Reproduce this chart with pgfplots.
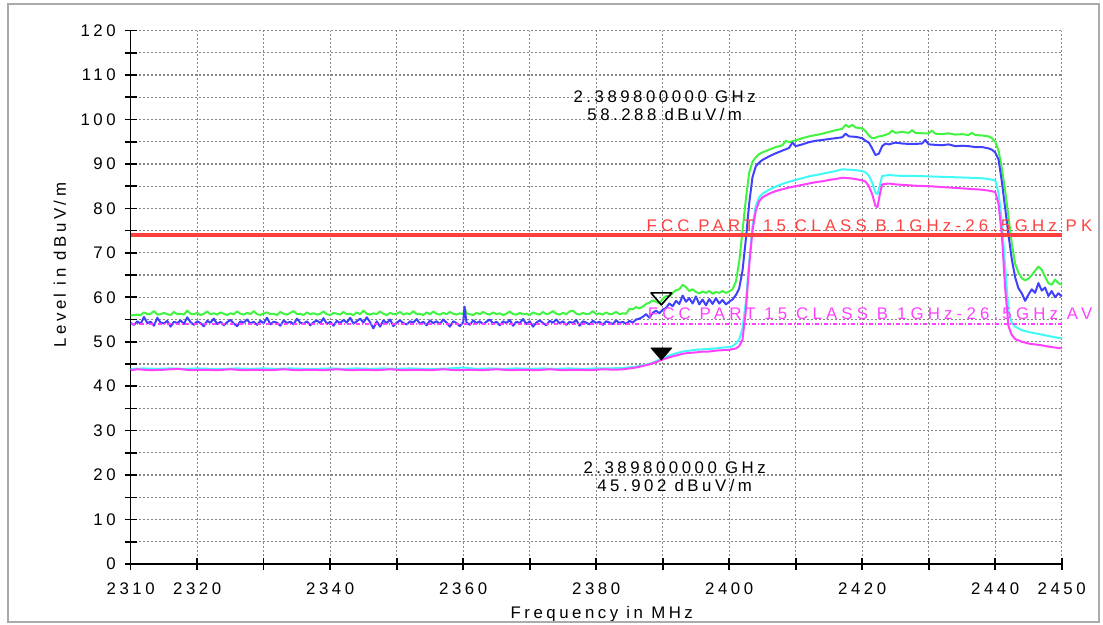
\documentclass[border=0pt]{standalone}
\usepackage{fontspec}
\setmainfont{Liberation Sans}[LetterSpace=21]
\newfontfamily\limfont{Liberation Sans}[LetterSpace=25]
\usepackage{pgfplots}
\pgfplotsset{compat=1.18}
\definecolor{tgreen}{RGB}{64,245,64}
\definecolor{tblue}{RGB}{64,64,255}
\definecolor{tcyan}{RGB}{64,250,250}
\definecolor{tmag}{RGB}{255,64,255}
\definecolor{pkred}{RGB}{255,64,64}
\definecolor{gridgray}{RGB}{135,135,135}
\definecolor{framegray}{RGB}{170,170,170}
\begin{document}
\begin{tikzpicture}[font=\fontsize{8.4pt}{10pt}\selectfont]
\path[use as bounding box] (-65.35pt,-30.5pt) rectangle (486.15pt,282pt);
\begin{axis}[
  at={(0pt,0pt)}, anchor=south west, scale only axis,
  width=465.5pt, height=266.7pt,
  xmin=2310, xmax=2450, ymin=0, ymax=120,
  axis x line*=bottom, axis y line*=left,
  axis line style={black, line width=0.8pt},
  xtick={2310,2320,...,2450},
  xticklabels={2310,2320,,2340,,2360,,2380,,2400,,2420,,2440,2450},
  ytick={0,10,...,120},
  yticklabels={0,10,20,30,40,50,60,70,80,90,100,110,120},
  minor ytick={5,15,...,115},
  tick align=center, major tick length=6pt, minor tick length=6pt,
  tick style={black, line width=0.8pt},
  xmajorgrids, ymajorgrids, yminorgrids,
  grid style={draw=gridgray, line width=0.6pt, dash pattern=on 1pt off 1pt},
  xticklabel style={yshift=-3pt},
  yticklabel style={xshift=-1pt},
  xlabel={Frequency in MHz},
  ylabel={Level in dBuV/m},
  xlabel style={at={(axis description cs:0.506,-0.094)}, anchor=center},
  ylabel style={at={(axis description cs:-0.076,0.56)}, anchor=center},
  clip=false,
  every axis plot/.append style={line join=round},
]
% Peak trace (green)
\addplot[tgreen, line width=1pt] coordinates {
(2310,55.9)(2310.5,56.0)(2311,56.1)(2311.5,56.0)(2312,56.6)(2312.5,56.2)(2313,56.3)(2313.5,56.9)(2314,56.1)(2314.5,56.2)
(2315,56.5)(2315.5,56.2)(2316,56.0)(2316.5,56.7)(2317,56.2)(2317.5,56.3)(2318,56.1)(2318.5,57.0)(2319,56.3)(2319.5,56.2)
(2320,56.5)(2320.5,56.0)(2321,56.3)(2321.5,56.8)(2322,56.2)(2322.5,56.4)(2323,56.1)(2323.5,56.6)(2324,56.3)(2324.5,56.0)
(2325,56.4)(2325.5,56.2)(2326,56.8)(2326.5,56.3)(2327,56.1)(2327.5,56.5)(2328,56.2)(2328.5,56.9)(2329,56.2)(2329.5,56.0)
(2330,56.4)(2330.5,56.6)(2331,56.2)(2331.5,56.3)(2332,56.0)(2332.5,56.7)(2333,56.3)(2333.5,56.1)(2334,56.5)(2334.5,56.9)
(2335,56.2)(2335.5,56.3)(2336,56.0)(2336.5,56.6)(2337,56.2)(2337.5,56.4)(2338,56.1)(2338.5,56.3)(2339,56.8)(2339.5,56.2)
(2340,56.0)(2340.5,56.5)(2341,56.3)(2341.5,56.1)(2342,56.7)(2342.5,56.2)(2343,56.3)(2343.5,56.0)(2344,56.6)(2344.5,56.2)
(2345,57.0)(2345.5,56.3)(2346,56.1)(2346.5,56.4)(2347,56.2)(2347.5,56.8)(2348,56.3)(2348.5,56.0)(2349,56.5)(2349.5,56.2)
(2350,56.3)(2350.5,56.7)(2351,56.1)(2351.5,56.4)(2352,56.2)(2352.5,56.9)(2353,56.2)(2353.5,56.3)(2354,56.0)(2354.5,56.6)
(2355,56.2)(2355.5,56.8)(2356,56.3)(2356.5,56.1)(2357,56.5)(2357.5,56.2)(2358,56.7)(2358.5,56.3)(2359,56.1)(2359.5,56.4)
(2360,56.2)(2360.2,57.6)(2360.5,56.4)(2361,56.2)(2361.5,56.0)(2362,56.5)(2362.5,56.2)(2363,56.7)(2363.5,56.3)(2364,56.1)
(2364.5,56.6)(2365,56.2)(2365.5,56.4)(2366,56.0)(2366.5,56.3)(2367,56.8)(2367.5,56.2)(2368,56.1)(2368.5,56.5)(2369,56.2)
(2369.5,56.3)(2370,56.0)(2370.5,56.6)(2371,56.3)(2371.5,56.1)(2372,56.7)(2372.5,56.2)(2373,56.4)(2373.5,56.9)(2374,56.3)
(2374.5,56.1)(2375,56.5)(2375.5,56.2)(2376,56.8)(2376.5,57.0)(2377,56.3)(2377.5,56.1)(2378,56.5)(2378.5,56.2)(2379,56.3)
(2379.5,56.9)(2380,56.2)(2380.5,56.4)(2381,56.1)(2381.5,56.6)(2382,56.2)(2382.5,56.3)(2383,56.7)(2383.5,56.2)(2384,56.4)
(2384.5,56.3)(2385,57.4)(2385.5,57.3)(2386,57.8)(2386.5,57.5)(2387,57.9)(2387.5,58.5)(2388,58.8)(2388.5,59.3)(2389,59.0)
(2389.5,58.6)(2390,59.6)(2390.5,60.3)(2391,60.2)(2391.5,61.0)(2392,61.6)(2392.5,61.8)(2393,62.8)(2393.5,62.3)(2394,61.4)
(2394.5,61.8)(2395,61.2)(2395.5,60.9)(2396,61.3)(2396.5,61.0)(2397,61.4)(2397.5,60.8)(2398,61.2)(2398.5,61.0)(2399,61.4)
(2399.5,61.0)(2400,61.3)(2400.5,61.8)(2401,63.5)(2401.5,68)(2402,75)(2402.5,82)(2403,88)(2403.5,90.5)(2404,91.5)
(2404.5,92.2)(2405,92.6)(2406,93.2)(2407,93.8)(2408,94.2)(2408.5,95.2)(2409,94.9)(2410,95.3)(2411,95.8)(2412,96.2)
(2413,96.5)(2414,96.8)(2415,97.2)(2416,97.6)(2417,97.9)(2417.5,98.8)(2418,98.3)(2418.5,98.8)(2419,98.2)(2420,98.0)
(2420.5,97.4)(2421,96.4)(2421.5,95.8)(2422,95.9)(2422.5,96.2)(2423,96.3)(2424,96.8)(2424.5,97.5)(2425,97.0)(2426,97.2)
(2427,97.0)(2427.5,97.6)(2428,97.0)(2429,96.9)(2430,96.9)(2430.5,97.5)(2431,96.8)(2432,96.7)(2433,96.9)(2434,96.6)
(2435,96.7)(2436,96.5)(2436.5,97.0)(2437,96.5)(2438,96.4)(2439,96.2)(2439.5,95.8)(2440,95.0)(2440.5,93.0)(2441,89)
(2441.5,84)(2442,78)(2442.5,72)(2443,67.5)(2443.5,65.5)(2444,64.3)(2444.5,63.8)(2445,64.2)(2445.5,65.0)(2446,66.0)
(2446.5,66.9)(2447,66.2)(2447.5,64.6)(2448,63.2)(2448.5,62.8)(2449,64.0)(2449.5,63.2)(2450,62.8)
};
% Peak trace (blue)
\addplot[tblue, line width=1pt] coordinates {
(2310,54.2)(2310.5,53.8)(2311,54.6)(2311.5,54.0)(2312,55.6)(2312.5,54.2)(2313,54.5)(2313.5,53.6)(2314,55.4)(2314.5,54.3)
(2315,54.1)(2315.5,54.7)(2316,53.4)(2316.5,54.5)(2317,54.2)(2317.5,54.8)(2318,54.0)(2318.5,55.5)(2319,54.4)(2319.5,53.8)
(2320,54.6)(2320.5,54.2)(2321,53.5)(2321.5,54.7)(2322,54.3)(2322.5,55.2)(2323,54.0)(2323.5,54.5)(2324,53.7)(2324.5,54.4)
(2325,54.9)(2325.5,54.1)(2326,53.5)(2326.5,54.6)(2327,54.3)(2327.5,55.0)(2328,54.1)(2328.5,54.5)(2329,53.8)(2329.5,54.7)
(2330,54.2)(2330.5,55.4)(2331,53.9)(2331.5,54.5)(2332,54.3)(2332.5,53.6)(2333,54.8)(2333.5,54.2)(2334,54.5)(2334.5,53.9)
(2335,55.2)(2335.5,54.3)(2336,54.0)(2336.5,54.6)(2337,53.7)(2337.5,54.4)(2338,54.8)(2338.5,54.2)(2339,55.3)(2339.5,54.0)
(2340,54.5)(2340.5,53.6)(2341,54.7)(2341.5,54.2)(2342,54.9)(2342.5,54.3)(2343,55.4)(2343.5,54.1)(2344,54.6)(2344.5,55.2)
(2345,54.3)(2345.5,55.5)(2346,54.4)(2346.5,53.0)(2347,54.6)(2347.5,53.4)(2348,54.8)(2348.5,54.2)(2349,55.0)(2349.5,53.5)
(2350,54.3)(2350.5,54.8)(2351,54.2)(2351.5,53.9)(2352,54.6)(2352.5,54.3)(2353,55.1)(2353.5,54.0)(2354,54.5)(2354.5,53.7)
(2355,54.8)(2355.5,54.2)(2356,54.6)(2356.5,54.0)(2357,55.0)(2357.5,54.3)(2358,53.4)(2358.5,54.6)(2359,54.2)(2359.5,53.5)
(2360,54.4)(2360.2,57.9)(2360.5,54.3)(2361,53.8)(2361.5,54.8)(2362,54.2)(2362.5,54.6)(2363,53.9)(2363.5,54.5)(2364,55.0)
(2364.5,54.1)(2365,54.5)(2365.5,53.7)(2366,54.6)(2366.5,54.2)(2367,54.9)(2367.5,53.6)(2368,54.5)(2368.5,54.2)(2369,55.1)
(2369.5,54.0)(2370,54.6)(2370.5,53.4)(2371,54.3)(2371.5,54.8)(2372,54.2)(2372.5,53.7)(2373,54.7)(2373.5,54.3)(2374,55.0)
(2374.5,54.1)(2375,54.6)(2375.5,53.8)(2376,54.5)(2376.5,54.2)(2377,54.9)(2377.5,53.6)(2378,54.6)(2378.5,54.3)(2379,53.9)
(2379.5,54.7)(2380,54.2)(2380.5,54.5)(2381,53.8)(2381.5,54.6)(2382,54.3)(2382.5,54.0)(2383,54.8)(2383.5,54.2)(2384,54.5)
(2384.5,54.0)(2385,54.7)(2385.5,54.3)(2386,55.0)(2386.5,55.2)(2387,55.6)(2387.5,56.2)(2388,55.4)(2388.5,56.5)(2389,57.0)
(2389.5,56.4)(2390,57.2)(2390.5,57.6)(2391,58.6)(2391.5,58.0)(2392,59.2)(2392.5,58.5)(2393,60.4)(2393.5,59.0)(2394,59.8)
(2394.5,58.6)(2395,60.2)(2395.5,58.4)(2396,59.5)(2396.5,58.2)(2397,59.6)(2397.5,58.5)(2398,59.8)(2398.5,58.6)(2399,59.4)
(2399.5,58.4)(2400,59.0)(2400.5,59.5)(2401,60.5)(2401.5,62)(2402,66)(2402.5,73)(2403,81)(2403.5,87)(2404,89.5)
(2404.5,90.3)(2405,90.9)(2406,91.7)(2407,92.4)(2408,93.0)(2409,93.6)(2409.5,94.8)(2410,94.0)(2411,94.4)(2412,94.9)
(2413,95.2)(2414,95.4)(2415,95.6)(2416,95.8)(2417,96.0)(2417.5,96.8)(2418,96.2)(2419,96.1)(2420,95.8)(2420.5,95.2)
(2421,94.8)(2421.5,93.5)(2422,92.0)(2422.5,92.3)(2423,94.0)(2423.5,94.6)(2424,94.4)(2425,94.8)(2426,94.6)(2427,94.5)
(2428,94.5)(2429,94.6)(2429.5,95.4)(2430,94.4)(2431,94.3)(2432,94.2)(2433,94.4)(2434,94.0)(2435,94.1)(2436,94.0)
(2437,93.8)(2438,93.8)(2439,93.5)(2439.5,93.2)(2440,92.6)(2440.5,91.0)(2441,86)(2441.5,80)(2442,74)(2442.5,68.5)
(2443,64.5)(2443.5,62.0)(2444,60.9)(2444.5,59.2)(2445,60.6)(2445.5,61.8)(2446,61.0)(2446.5,63.2)(2447,61.5)(2447.5,62.2)
(2448,60.3)(2448.5,61.4)(2449,60.0)(2449.5,60.9)(2450,60.2)
};
% Average trace (cyan)
\addplot[tcyan, line width=1pt] coordinates {
(2310,43.9)(2312,44.0)(2314,43.9)(2316,44.0)(2318,43.9)(2320,44.0)(2322,43.9)(2324,43.9)(2326,44.0)(2328,43.9)
(2330,44.0)(2332,43.9)(2334,44.0)(2336,43.9)(2338,43.9)(2340,44.0)(2342,43.9)(2344,44.0)(2346,43.9)(2348,44.0)
(2350,43.9)(2352,44.0)(2354,43.9)(2356,43.9)(2358,44.0)(2360,44.2)(2362,43.9)(2364,44.0)(2366,43.9)(2368,44.0)
(2370,43.9)(2372,44.0)(2374,43.9)(2376,44.0)(2378,43.9)(2380,44.0)(2382,44.0)(2384,44.1)(2386,44.4)(2388,45.0)
(2389,45.6)(2390,46.3)(2391,46.9)(2392,47.4)(2393,47.8)(2394,48.0)(2395,48.2)(2396,48.3)(2397,48.4)(2398,48.5)
(2399,48.7)(2400,48.8)(2400.5,49.0)(2401,49.6)(2401.5,50.5)(2402,53)(2402.5,59)(2403,68)(2403.5,76)(2404,80.5)
(2404.5,82.5)(2405,83.3)(2406,84.2)(2407,84.9)(2408,85.5)(2409,86.0)(2410,86.4)(2411,86.8)(2412,87.2)(2413,87.5)
(2414,87.8)(2415,88.1)(2416,88.4)(2417,88.8)(2418,88.7)(2419,88.6)(2420,88.4)(2420.5,88.1)(2421,87.4)(2421.5,85.8)
(2422,83.5)(2422.3,83.2)(2422.7,85.5)(2423,87.3)(2424,87.5)(2425,87.4)(2426,87.3)(2428,87.3)(2430,87.2)(2432,87.1)
(2434,87.0)(2436,86.9)(2438,86.8)(2439,86.6)(2440,86.3)(2440.5,83.5)(2441,77)(2441.5,67)(2442,57)(2442.5,54.2)
(2443,53.4)(2444,52.6)(2445,52.2)(2446,51.9)(2447,51.6)(2448,51.3)(2449,51.0)(2450,50.8)
};
% Average trace (magenta)
\addplot[tmag, line width=1pt] coordinates {
(2310,43.6)(2311,43.8)(2313,43.6)(2315,43.7)(2317,43.9)(2319,43.6)(2321,43.7)(2323,43.6)(2325,43.8)(2327,43.6)
(2329,43.7)(2331,43.6)(2333,43.8)(2335,43.6)(2337,43.7)(2339,43.6)(2341,43.8)(2343,43.6)(2345,43.7)(2347,43.6)
(2349,43.8)(2351,43.6)(2353,43.7)(2355,43.6)(2357,43.8)(2359,43.6)(2361,43.7)(2363,43.6)(2365,43.8)(2367,43.6)
(2369,43.7)(2371,43.6)(2373,43.8)(2375,43.6)(2377,43.7)(2379,43.6)(2381,43.8)(2383,43.7)(2384,43.8)(2386,44.2)
(2388,44.9)(2389,45.4)(2390,46.0)(2391,46.5)(2392,46.9)(2393,47.3)(2394,47.5)(2395,47.6)(2396,47.8)(2397,47.8)
(2398,48.0)(2399,48.1)(2400,48.2)(2401,48.5)(2401.5,49.0)(2402,50.5)(2402.5,57)(2403,67)(2403.5,75)(2404,79.5)
(2404.5,81.6)(2405,82.5)(2406,83.3)(2407,83.9)(2408,84.3)(2409,84.7)(2410,85.0)(2411,85.3)(2412,85.6)(2413,85.9)
(2414,86.1)(2415,86.4)(2416,86.6)(2417,86.9)(2418,86.8)(2419,86.6)(2420,86.3)(2420.5,86.0)(2421,85.0)(2421.5,83.2)
(2422,80.5)(2422.3,80.3)(2422.7,83.5)(2423,85.4)(2424,85.6)(2425,85.4)(2426,85.3)(2428,85.1)(2430,85.0)(2432,84.8)
(2434,84.6)(2436,84.4)(2438,84.2)(2439,84.0)(2440,83.7)(2440.5,81)(2441,74)(2441.5,62)(2442,53.5)(2442.5,51.5)
(2443,50.6)(2444,50.0)(2445,49.6)(2446,49.4)(2447,49.2)(2448,48.9)(2449,48.7)(2450,48.5)
};
% Limit lines
\addplot[pkred, line width=1.6pt] coordinates {(2310,74) (2450,74)};
\addplot[tmag, line width=0.6pt, dash pattern=on 2pt off 1pt on 0.5pt off 1pt] coordinates {(2310,54) (2450,54)};
% Markers
\addplot[only marks, mark=triangle, mark size=4pt, black,
  mark options={yshift=4pt, rotate=180, xscale=1.5, line width=0.8pt}] coordinates {(2389.8,58.288)};
\addplot[only marks, mark=triangle*, mark size=4pt, black,
  mark options={yshift=4pt, rotate=180, xscale=1.5}] coordinates {(2389.8,45.902)};
% Texts
\node[anchor=base east, text=pkred, inner sep=0pt, font=\limfont\fontsize{8.4pt}{10pt}\selectfont] at (axis cs:2450,74) [xshift=15.5pt, yshift=1.8pt] {FCC PART 15 CLASS B 1GHz-26.5GHz PK};
\node[anchor=base east, text=tmag, inner sep=0pt, font=\limfont\fontsize{8.4pt}{10pt}\selectfont] at (axis cs:2450,54) [xshift=15.5pt, yshift=2pt] {FCC PART 15 CLASS B 1GHz-26.5GHz AV};
\node[align=center, inner sep=0pt, font=\fontsize{8.4pt}{9pt}\selectfont] at (axis cs:2390.3,103.1) {2.389800000 GHz\\58.288 dBuV/m};
\node[align=center, inner sep=0pt, font=\fontsize{8.4pt}{9pt}\selectfont] at (axis cs:2391.8,19.7) {2.389800000 GHz\\45.902 dBuV/m};
\end{axis}
\draw[framegray, line width=0.75pt] (-61.35pt,-29pt) rectangle (484.15pt,280pt);
\end{tikzpicture}
\end{document}
